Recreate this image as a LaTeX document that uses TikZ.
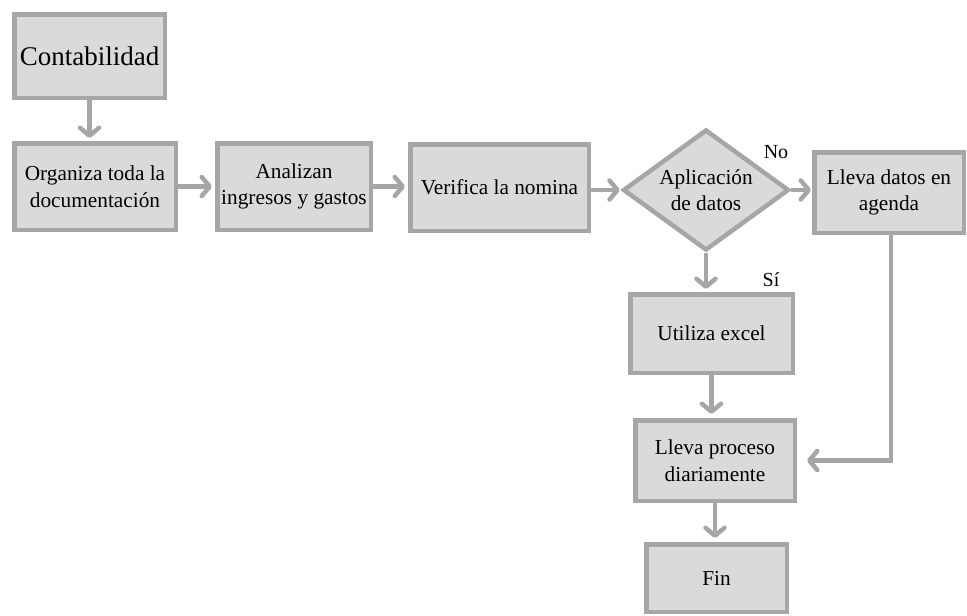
\documentclass[tikz,border=0pt]{standalone}
\usepackage{fontspec}
\setmainfont{Liberation Serif}
\usetikzlibrary{arrows.meta,shapes.geometric}
\definecolor{edgegray}{HTML}{A6A6A6}
\definecolor{boxfill}{HTML}{DADADA}
\begin{document}
\begin{tikzpicture}[x=1pt,y=-1pt,
  box/.style={draw=edgegray, fill=boxfill, line width=4.5pt, align=center,
    font=\fontsize{21.3}{26.5}\selectfont, inner sep=0pt, rectangle},
  decision/.style={box, diamond, aspect=1.5},
  flow/.style={draw=edgegray, line width=4.5pt,
    -{Straight Barb[length=8pt,width=19pt,line cap=round,line join=round]}},
  tag/.style={font=\fontsize{20}{22}\selectfont, inner sep=0pt}
]
\useasboundingbox (0,0) rectangle (967,616);

% process boxes (centre, then size inside the border)
\node[box, minimum width=150.5pt, minimum height=83.5pt,
      font=\fontsize{27}{30}\selectfont] (conta) at (89.5,56) {Contabilidad};
\node[box, minimum width=161.5pt, minimum height=86.5pt] (org) at (95,186.5)
  {Organiza toda la\\documentación};
\node[box, minimum width=153.5pt, minimum height=86.5pt] (ana) at (294,186.5)
  {Analizan\\ingresos y gastos};
\node[box, minimum width=178.5pt, minimum height=86.5pt] (ver) at (499.5,187.5)
  {Verifica la nomina};
\node[decision, minimum width=166pt, minimum height=121pt] (dec) at (706,190)
  {Aplicación\\de datos};
\node[box, minimum width=149.5pt, minimum height=80.5pt] (agen) at (889,192.5)
  {Lleva datos en\\agenda};
\node[box, minimum width=162.5pt, minimum height=78.5pt] (util) at (711.5,333.5)
  {Utiliza excel};
\node[box, minimum width=159.5pt, minimum height=80.5pt] (proc) at (715,460.5)
  {Lleva proceso\\diariamente};
\node[box, minimum width=140.5pt, minimum height=67.5pt] (fin) at (716.5,578)
  {Fin};

% branch labels
\node[tag] (no) at (776,152) {No};
\node[tag] (si) at (771,280) {Sí};

% connectors
\draw[flow, shorten >=3pt] (conta.south) -- (conta.south |- org.north);
\draw[flow, shorten >=3pt] (org.east) -- (ana.west);
\draw[flow, shorten >=3pt] (ana.east) -- (ana.east -| ver.west);
\draw[flow, shorten >=1pt] (ver.east |- dec.west) -- (dec.west);
\draw[flow, shorten >=1pt] (dec.east) -- (dec.east -| agen.west);
\draw[flow, shorten >=3pt] (dec.south) -- (dec.south |- util.north);
\draw[flow, shorten >=4pt] (util.south) -- (util.south |- proc.north);
\draw[flow, shorten >=4pt] (proc.south) -- (proc.south |- fin.north);
\draw[flow, shorten >=10pt] ([xshift=2pt]agen.south) |- (proc.east);
\end{tikzpicture}
\end{document}
